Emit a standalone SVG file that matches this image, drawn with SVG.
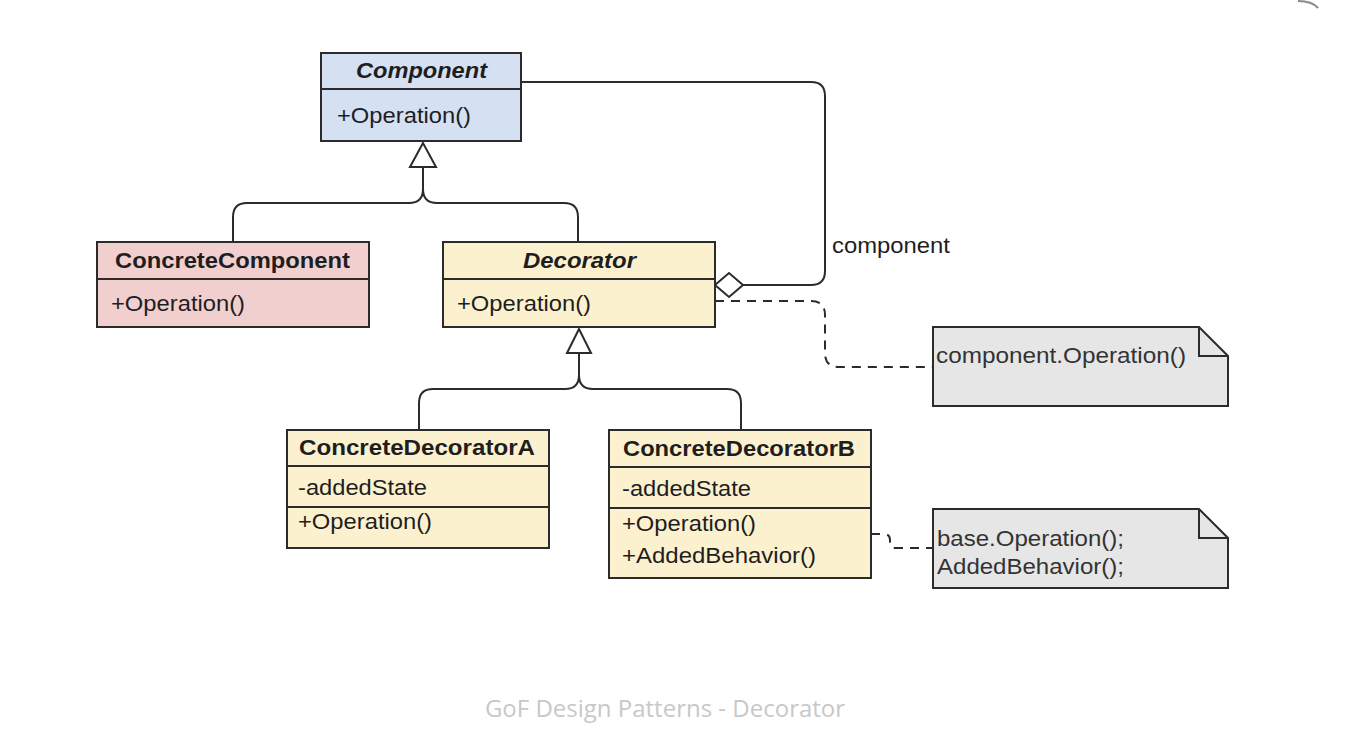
<svg xmlns="http://www.w3.org/2000/svg" width="1350" height="738" viewBox="0 0 1350 738">
<style>
.box{stroke:#2b2b2b;stroke-width:2}
.div{stroke:#2b2b2b;stroke-width:2}
.blue{fill:#d5e0f2}
.pink{fill:#f2cfcf}
.yel{fill:#fcf1cf}
.note{fill:#e6e6e6;stroke:#2b2b2b;stroke-width:2}
.t{font-family:"Liberation Sans",Arial,sans-serif;font-size:22px;fill:#1e1e1e}
.b{font-weight:bold}
.i{font-style:italic}
.nt{font-family:"Liberation Sans",Arial,sans-serif;font-size:22px;fill:#333333}
.ln{fill:none;stroke:#2b2b2b;stroke-width:2}
.dash{fill:none;stroke:#2b2b2b;stroke-width:2;stroke-dasharray:9 7}
.tri{fill:#ffffff;stroke:#2b2b2b;stroke-width:2}
.cap{font-family:"Open Sans",sans-serif;font-size:24px;fill:#c8c8c8}
</style>
<rect width="1350" height="738" fill="#ffffff"/>
<path d="M1298,1 Q1312,1 1318,8" fill="none" stroke="#8a8a8a" stroke-width="2"/>

<g id="connectors">
  <path class="ln" d="M521,82 H811 Q825,82 825,96 V271 Q825,285 811,285 H743"/>
  <polygon class="tri" points="743,285 729,273 715,285 729,297"/>
  <path class="ln" d="M423,167 V189 Q423,203 409,203 H247 Q233,203 233,217 V242"/>
  <path class="ln" d="M423,189 Q423,203 437,203 H564 Q578,203 578,217 V242"/>
  <polygon class="tri" points="423,143 410,167 436,167"/>
  <path class="ln" d="M579,353 V375 Q579,389 565,389 H433 Q419,389 419,403 V430"/>
  <path class="ln" d="M579,375 Q579,389 593,389 H727 Q741,389 741,403 V430"/>
  <polygon class="tri" points="579,329 567,353 591,353"/>
  <path class="dash" d="M715,301 H811 Q825,301 825,315 V353 Q825,367 839,367 H933"/>
  <path class="dash" d="M871,534 H884 Q890,534 890,540 V542 Q890,548 896,548 H933"/>
  <text class="t" x="832" y="253" textLength="118" lengthAdjust="spacingAndGlyphs">component</text>
</g>

<g id="Component">
  <rect class="box blue" x="321" y="53" width="200" height="88"/>
  <line class="div" x1="321" y1="89" x2="521" y2="89"/>
  <text class="t b i" x="356" y="78" textLength="131" lengthAdjust="spacingAndGlyphs">Component</text>
  <text class="t" x="337" y="123" textLength="134" lengthAdjust="spacingAndGlyphs">+Operation()</text>
</g>

<g id="ConcreteComponent">
  <rect class="box pink" x="97" y="242" width="272" height="85"/>
  <line class="div" x1="97" y1="279" x2="369" y2="279"/>
  <text class="t b" x="115" y="268" textLength="235" lengthAdjust="spacingAndGlyphs">ConcreteComponent</text>
  <text class="t" x="111" y="311" textLength="134" lengthAdjust="spacingAndGlyphs">+Operation()</text>
</g>

<g id="Decorator">
  <rect class="box yel" x="443" y="242" width="272" height="85"/>
  <line class="div" x1="443" y1="279" x2="715" y2="279"/>
  <text class="t b i" x="523" y="268" textLength="113" lengthAdjust="spacingAndGlyphs">Decorator</text>
  <text class="t" x="457" y="311" textLength="134" lengthAdjust="spacingAndGlyphs">+Operation()</text>
</g>

<g id="ConcreteDecoratorA">
  <rect class="box yel" x="287" y="430" width="262" height="118"/>
  <line class="div" x1="287" y1="466" x2="549" y2="466"/>
  <line class="div" x1="287" y1="507" x2="549" y2="507"/>
  <text class="t b" x="299" y="455" textLength="236" lengthAdjust="spacingAndGlyphs">ConcreteDecoratorA</text>
  <text class="t" x="298" y="495" textLength="129" lengthAdjust="spacingAndGlyphs">-addedState</text>
  <text class="t" x="298" y="529" textLength="134" lengthAdjust="spacingAndGlyphs">+Operation()</text>
</g>

<g id="ConcreteDecoratorB">
  <rect class="box yel" x="609" y="430" width="262" height="148"/>
  <line class="div" x1="609" y1="467" x2="871" y2="467"/>
  <line class="div" x1="609" y1="508" x2="871" y2="508"/>
  <text class="t b" x="623" y="456" textLength="232" lengthAdjust="spacingAndGlyphs">ConcreteDecoratorB</text>
  <text class="t" x="622" y="496" textLength="129" lengthAdjust="spacingAndGlyphs">-addedState</text>
  <text class="t" x="622" y="531" textLength="134" lengthAdjust="spacingAndGlyphs">+Operation()</text>
  <text class="t" x="622" y="563" textLength="194" lengthAdjust="spacingAndGlyphs">+AddedBehavior()</text>
</g>

<g id="note1">
  <path class="note" d="M933,327 H1199 L1228,356 V406 H933 Z"/>
  <path class="ln" d="M1199,327 V356 H1228"/>
  <text class="nt" x="936" y="363" textLength="250" lengthAdjust="spacingAndGlyphs">component.Operation()</text>
</g>

<g id="note2">
  <path class="note" d="M933,509 H1199 L1228,538 V588 H933 Z"/>
  <path class="ln" d="M1199,509 V538 H1228"/>
  <text class="nt" x="937" y="546" textLength="187" lengthAdjust="spacingAndGlyphs">base.Operation();</text>
  <text class="nt" x="937" y="574" textLength="187" lengthAdjust="spacingAndGlyphs">AddedBehavior();</text>
</g>

<text class="cap" x="665" y="717" text-anchor="middle">GoF Design Patterns - Decorator</text>
</svg>
